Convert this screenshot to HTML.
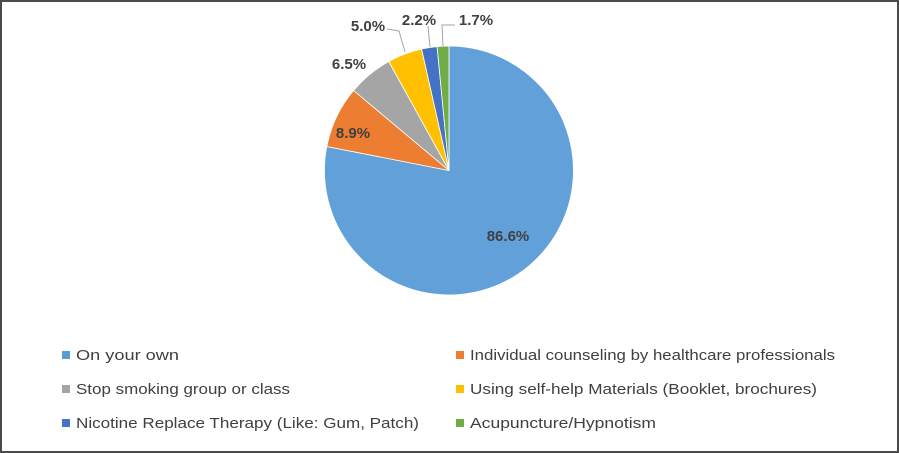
<!DOCTYPE html>
<html><head><meta charset="utf-8"><style>
html,body{margin:0;padding:0;background:#fff}
svg{display:block}
text{font-family:"Liberation Sans",sans-serif;fill:#404040}
</style></head><body>
<svg width="899" height="453" viewBox="0 0 899 453" xmlns="http://www.w3.org/2000/svg">
<rect x="1" y="1" width="897" height="451" fill="#fff" stroke="#4a4a4a" stroke-width="2"/>
<g stroke="#fff" stroke-width="0.8">
<path d="M449,170.5 L449,46 A124.5,124.5 0 1,1 326.8,146.5 Z" fill="#62a0da"/>
<path d="M449,170.5 L326.8,146.5 A124.5,124.5 0 0,1 353.6,90.5 Z" fill="#ed7d31"/>
<path d="M449,170.5 L353.6,90.5 A124.5,124.5 0 0,1 388.8,61.5 Z" fill="#a5a5a5"/>
<path d="M449,170.5 L388.8,61.5 A124.5,124.5 0 0,1 421.6,49.0 Z" fill="#ffc000"/>
<path d="M449,170.5 L421.6,49.0 A124.5,124.5 0 0,1 437.1,46.6 Z" fill="#4472c4"/>
<path d="M449,170.5 L437.1,46.6 A124.5,124.5 0 0,1 449,46 Z" fill="#70ad47"/>
</g>
<g fill="none" stroke="#a6a6a6" stroke-width="1">
<polyline points="387,29 399,31 405,52"/>
<polyline points="428,26 430,47"/>
<polyline points="455,25 442,25 443,46"/>
</g>
<g font-weight="bold" font-size="15" text-anchor="middle">
<text x="508" y="241">86.6%</text>
<text x="353" y="138">8.9%</text>
<text x="349" y="69">6.5%</text>
<text x="368" y="31">5.0%</text>
<text x="419" y="25">2.2%</text>
<text x="476" y="25">1.7%</text>
</g>
<rect x="62" y="351" width="8" height="8" fill="#5b9bd5"/>
<rect x="62" y="385" width="8" height="8" fill="#a5a5a5"/>
<rect x="62" y="419" width="8" height="8" fill="#4472c4"/>
<rect x="456" y="351" width="8" height="8" fill="#ed7d31"/>
<rect x="456" y="385" width="8" height="8" fill="#ffc000"/>
<rect x="456" y="419" width="8" height="8" fill="#70ad47"/>
<g font-size="15">
<text x="76" y="360" textLength="103" lengthAdjust="spacingAndGlyphs">On your own</text>
<text x="76" y="394" textLength="214" lengthAdjust="spacingAndGlyphs">Stop smoking group or class</text>
<text x="76" y="428" textLength="343" lengthAdjust="spacingAndGlyphs">Nicotine Replace Therapy (Like: Gum, Patch)</text>
<text x="470" y="360" textLength="365" lengthAdjust="spacingAndGlyphs">Individual counseling by healthcare professionals</text>
<text x="470" y="394" textLength="347" lengthAdjust="spacingAndGlyphs">Using self-help Materials (Booklet, brochures)</text>
<text x="470" y="428" textLength="186" lengthAdjust="spacingAndGlyphs">Acupuncture/Hypnotism</text>
</g>
</svg>
</body></html>
